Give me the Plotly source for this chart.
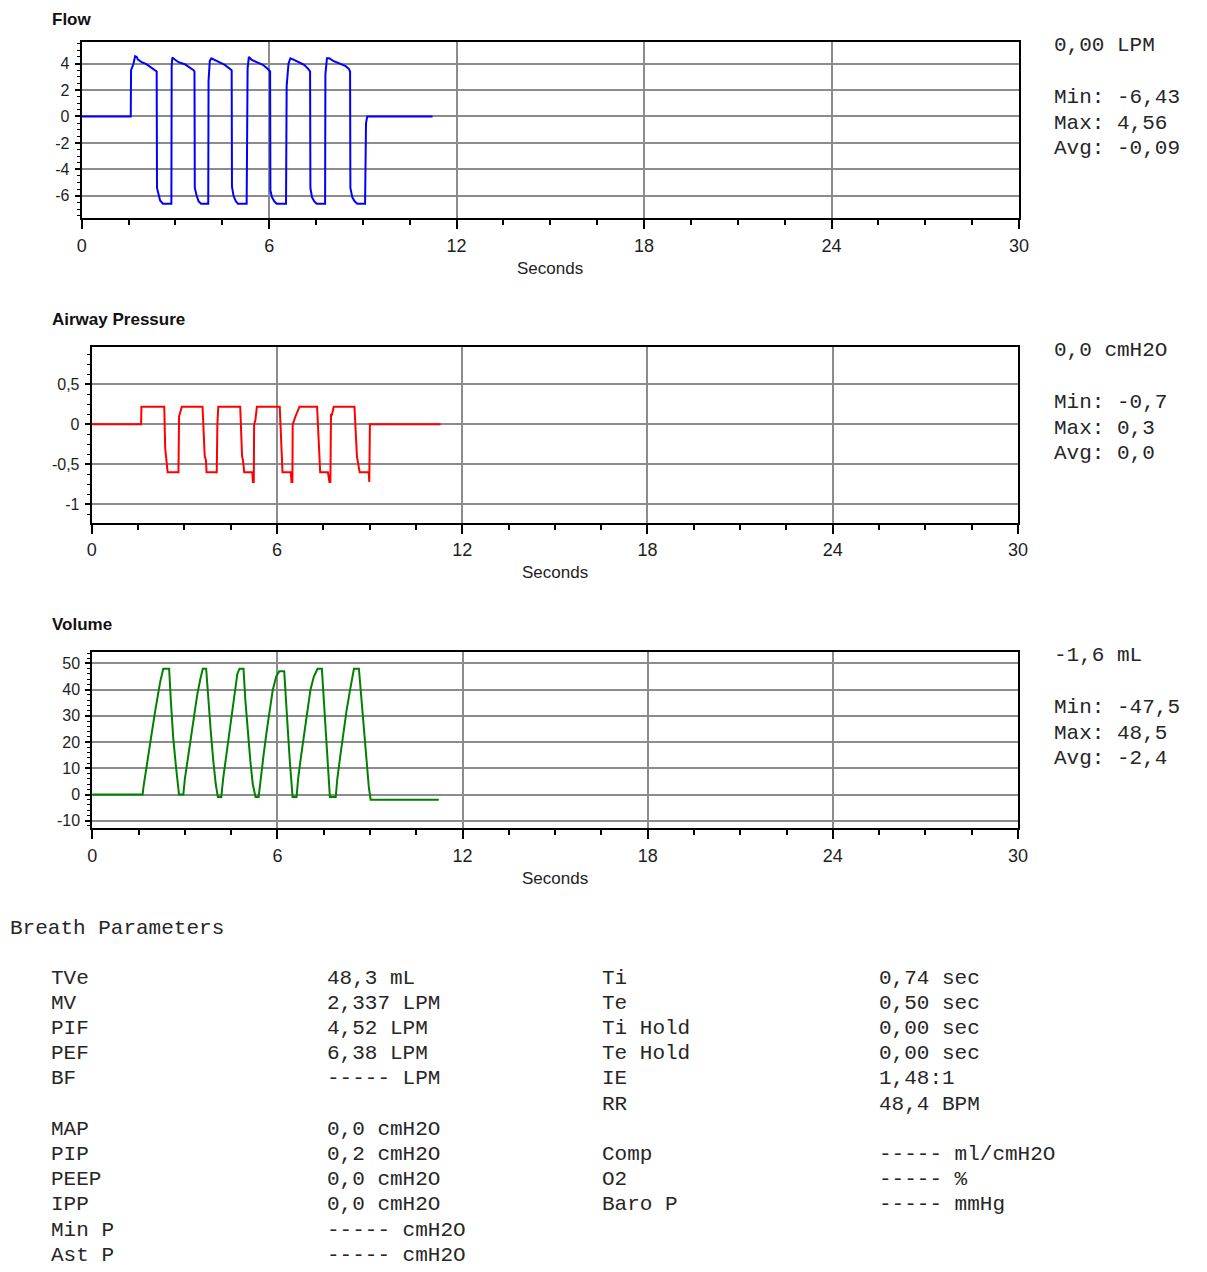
import plotly.graph_objects as go

W, H = 1207, 1272
OFFX, OFFY = 8, 8                  # page body margin where the figure lands
FW, FH = W - 2 * OFFX, H - OFFY    # figure size so the page does not overflow horizontally

# ---------------- data ----------------
flow_t = [0, 1.57, 1.58, 1.66, 1.71, 1.76, 1.80, 1.92, 2.07, 2.22, 2.34, 2.40, 2.41, 2.46, 2.51, 2.60, 2.87,
          2.88, 2.90, 2.98, 3.10, 3.30, 3.48, 3.58, 3.61, 3.62, 3.68, 3.74, 3.82, 4.05,
          4.06, 4.10, 4.15, 4.25, 4.40, 4.58, 4.72, 4.80, 4.81, 4.86, 4.93, 5.00, 5.28,
          5.29, 5.31, 5.35, 5.43, 5.60, 5.80, 5.95, 6.03, 6.04, 6.09, 6.16, 6.24, 6.54,
          6.56, 6.62, 6.68, 6.78, 6.95, 7.12, 7.25, 7.31, 7.32, 7.37, 7.44, 7.52, 7.79,
          7.80, 7.85, 7.92, 8.05, 8.25, 8.45, 8.55, 8.59, 8.60, 8.66, 8.73, 8.82, 9.07,
          9.08, 9.10, 9.14, 11.23]
flow_v = [0, 0, 3.5, 4.0, 4.56, 4.5, 4.3, 4.1, 3.95, 3.7, 3.5, 3.4, -5.4, -6.0, -6.35, -6.6, -6.6,
          3.8, 4.45, 4.3, 4.1, 3.95, 3.7, 3.5, 3.4, -5.4, -6.0, -6.4, -6.6, -6.6,
          2.7, 4.2, 4.4, 4.3, 4.1, 3.9, 3.6, 3.5, -5.3, -6.0, -6.4, -6.6, -6.6,
          0.5, 3.6, 4.5, 4.3, 4.1, 3.9, 3.6, 3.4, -5.6, -6.1, -6.4, -6.6, -6.6,
          2.3, 4.0, 4.4, 4.3, 4.1, 3.9, 3.6, 3.4, -5.4, -6.1, -6.4, -6.6, -6.6,
          3.2, 4.4, 4.4, 4.2, 4.0, 3.8, 3.6, 3.4, -5.4, -6.1, -6.4, -6.6, -6.6,
          -1.5, -0.5, 0, 0]

pres_t = [0, 1.60, 1.61, 2.35, 2.38, 2.42, 2.46, 2.81, 2.83, 2.92,
          3.59, 3.66, 3.70, 3.72, 4.05, 4.07, 4.10,
          4.81, 4.87, 4.90, 4.94, 5.20, 5.22, 5.25, 5.26, 5.30, 5.35,
          6.09, 6.15, 6.18, 6.45, 6.47, 6.50, 6.51, 6.60, 6.73,
          7.30, 7.37, 7.40, 7.65, 7.70, 7.73, 7.75, 7.78, 7.84,
          8.51, 8.59, 8.68, 8.97, 8.99, 9.01, 11.30]
pres_v = [0, 0, 0.22, 0.22, -0.3, -0.5, -0.6, -0.6, 0.1, 0.22,
          0.22, -0.4, -0.45, -0.6, -0.6, 0.0, 0.22,
          0.22, -0.4, -0.45, -0.6, -0.6, -0.72, -0.72, 0.0, 0.05, 0.22,
          0.22, -0.45, -0.6, -0.6, -0.72, -0.72, 0.0, 0.1, 0.22,
          0.22, -0.5, -0.6, -0.6, -0.72, -0.72, 0.12, 0.12, 0.22,
          0.22, -0.4, -0.6, -0.6, -0.72, 0.0, 0.0]

vol_t = [0, 1.63, 1.66, 1.72, 1.80, 1.88, 1.96, 2.04, 2.12, 2.20, 2.30, 2.49, 2.55, 2.62, 2.70, 2.78, 2.81, 2.95,
         3.00, 3.10, 3.20, 3.30, 3.40, 3.50, 3.58, 3.69, 3.76, 3.84, 3.92, 4.00, 4.07, 4.18,
         4.24, 4.34, 4.44, 4.54, 4.62, 4.70, 4.77, 4.90, 4.96, 5.04, 5.12, 5.20, 5.29, 5.39,
         5.45, 5.55, 5.65, 5.75, 5.85, 5.96, 6.06, 6.22, 6.27, 6.34, 6.40, 6.46, 6.49, 6.62,
         6.67, 6.77, 6.87, 6.97, 7.07, 7.18, 7.30, 7.44, 7.50, 7.56, 7.62, 7.67, 7.70, 7.89,
         7.94, 8.04, 8.14, 8.24, 8.34, 8.42, 8.48, 8.64, 8.72, 8.80, 8.88, 8.96, 9.02, 11.23]
vol_v = [0, 0, 3, 8, 14, 20, 26, 32, 38, 43, 48, 48, 35, 22, 12, 3, 0, 0,
         6, 14, 22, 30, 38, 44, 48, 48, 36, 24, 13, 4, -1, -1,
         6, 15, 24, 32, 40, 46, 48, 48, 36, 24, 13, 4, -1, -1,
         6, 15, 24, 32, 40, 45, 47, 47, 36, 24, 13, 4, -1, -1,
         6, 15, 24, 32, 40, 45, 48, 48, 36, 24, 12, 3, -1, -1,
         6, 15, 24, 32, 39, 45, 48, 48, 36, 24, 12, 3, -2, -2]

x_ticks = [0, 6, 12, 18, 24, 30]
flow_yticks = [-6, -4, -2, 0, 2, 4]
flow_ytext = ["-6", "-4", "-2", "0", "2", "4"]
pres_yticks = [-1, -0.5, 0, 0.5]
pres_ytext = ["-1", "-0,5", "0", "0,5"]
vol_yticks = [-10, 0, 10, 20, 30, 40, 50]
vol_ytext = ["-10", "0", "10", "20", "30", "40", "50"]

panel_titles = ["Flow", "Airway Pressure", "Volume"]
readouts = ["0,00 LPM", "0,0 cmH2O", "-1,6 mL"]
stats = [["Min: -6,43", "Max: 4,56", "Avg: -0,09"],
         ["Min: -0,7", "Max: 0,3", "Avg: 0,0"],
         ["Min: -47,5", "Max: 48,5", "Avg: -2,4"]]

left_labels = ["TVe", "MV", "PIF", "PEF", "BF", "", "MAP", "PIP", "PEEP", "IPP", "Min P", "Ast P"]
left_values = ["48,3 mL", "2,337 LPM", "4,52 LPM", "6,38 LPM", "----- LPM", "",
               "0,0 cmH2O", "0,2 cmH2O", "0,0 cmH2O", "0,0 cmH2O", "----- cmH2O", "----- cmH2O"]
right_labels = ["Ti", "Te", "Ti Hold", "Te Hold", "IE", "RR", "", "Comp", "O2", "Baro P"]
right_values = ["0,74 sec", "0,50 sec", "0,00 sec", "0,00 sec", "1,48:1", "48,4 BPM", "",
                "----- ml/cmH2O", "----- %", "----- mmHg"]

# ---------------- figure ----------------
def px_x(x):
    return (x - OFFX) / FW

def px_y(y):
    return 1 - (y - OFFY) / FH

AX = 3  # annotation inner padding compensation for left-anchored texts

# panel pixel boxes (page coords): (left, right, top, bottom)
boxes = [(81.7, 1019, 41.7, 218.3), (91.7, 1018, 346.7, 522.7), (92.3, 1018, 651.7, 828.3)]
yranges = [[-7.7, 5.65], [-1.23, 0.97], [-12.9, 54.5]]
yminor = [0.5, 0.125, 2]
colors = ["#0000FF", "#FF0000", "#008000"]
series = [(flow_t, flow_v), (pres_t, pres_v), (vol_t, vol_v)]
yt = [(flow_yticks, flow_ytext), (pres_yticks, pres_ytext), (vol_yticks, vol_ytext)]

fig = go.Figure()
layout = dict(width=FW, height=FH, margin=dict(l=0, r=0, t=0, b=0, autoexpand=False),
              paper_bgcolor="white", plot_bgcolor="white", showlegend=False)

xtickfont = dict(family="Liberation Sans Narrow, Liberation Sans, Arial", size=18, color="#1e1e1e")
ytickfont = dict(family="Liberation Sans Narrow, Liberation Sans, Arial", size=16, color="#1e1e1e")
MONO_SIZE = 21
mono = dict(family="Liberation Mono, Courier New, monospace", size=MONO_SIZE, color="#262626")
annotations = []


def mono_text(x_page, y_page, text):
    # keep the text box inside the figure: pin to the bottom edge if it would be clipped
    half = MONO_SIZE * 0.72
    if y_page + half > OFFY + FH:
        return dict(x=px_x(x_page - AX), y=0.0, xref="paper", yref="paper", text=text,
                    showarrow=False, xanchor="left", yanchor="bottom", font=mono)
    return dict(x=px_x(x_page - AX), y=px_y(y_page), xref="paper", yref="paper", text=text,
                showarrow=False, xanchor="left", yanchor="middle", font=mono)


for i in range(3):
    l, r, t, b = boxes[i]
    sfx = "" if i == 0 else str(i + 1)
    fig.add_trace(go.Scatter(x=series[i][0], y=series[i][1], mode="lines",
                             line=dict(color=colors[i], width=2),
                             xaxis="x" + sfx, yaxis="y" + sfx, hoverinfo="skip"))
    layout["xaxis" + sfx] = dict(
        domain=[px_x(l), px_x(r)], anchor="y" + sfx, range=[0, 30],
        tickmode="array", tickvals=x_ticks, ticks="outside", ticklen=9, tickwidth=1.5,
        tickcolor="black", tickfont=xtickfont, ticklabelstandoff=1,
        showgrid=True, gridcolor="#8c8c8c", gridwidth=2,
        showline=True, linecolor="black", linewidth=2, mirror=True, zeroline=False,
        minor=dict(tickmode="linear", tick0=0, dtick=1.5, ticks="outside", ticklen=5,
                   tickcolor="black", tickwidth=1.5, showgrid=False),
        fixedrange=True)
    layout["yaxis" + sfx] = dict(
        domain=[px_y(b), px_y(t)], anchor="x" + sfx, range=yranges[i],
        tickmode="array", tickvals=yt[i][0], ticktext=yt[i][1], ticks="outside", ticklen=5,
        tickwidth=1.5, tickcolor="black", tickfont=ytickfont, ticklabelstandoff=2,
        showgrid=True, gridcolor="#8c8c8c", gridwidth=2,
        showline=True, linecolor="black", linewidth=2, mirror=True, zeroline=False,
        minor=dict(tickmode="linear", tick0=0, dtick=yminor[i], ticks="outside", ticklen=3,
                   tickcolor="black", tickwidth=1, showgrid=False),
        fixedrange=True)

    # panel title (first one is pinned to the top edge so it is not clipped)
    ty = t - 27
    tfont = dict(family="Liberation Sans, Arial", size=17, color="#111")
    if ty - 10 < OFFY:
        annotations.append(dict(x=px_x(53 - AX), y=1.0, xref="paper", yref="paper",
                                text="<b>" + panel_titles[i] + "</b>", showarrow=False,
                                xanchor="left", yanchor="top", font=tfont))
    else:
        annotations.append(dict(x=px_x(53 - AX), y=px_y(ty), xref="paper", yref="paper",
                                text="<b>" + panel_titles[i] + "</b>", showarrow=False,
                                xanchor="left", yanchor="middle", font=tfont))
    # x axis title
    annotations.append(dict(x=px_x((l + r) / 2), y=px_y(b + 50), xref="paper", yref="paper",
                            text="Seconds", showarrow=False, xanchor="center", yanchor="middle",
                            font=dict(family="Liberation Sans Narrow, Liberation Sans, Arial",
                                      size=17, color="#1e1e1e")))
    # readouts
    annotations.append(mono_text(1055, t + 4, readouts[i]))
    for k, s in enumerate(stats[i]):
        annotations.append(mono_text(1055, t + 56 + 25.5 * k, s))

annotations.append(mono_text(8 + AX, 928, "Breath Parameters"))

row0, dy = 978, 25.2
for k in range(len(left_labels)):
    if left_labels[k]:
        annotations.append(mono_text(52, row0 + dy * k, left_labels[k]))
        annotations.append(mono_text(328, row0 + dy * k, left_values[k]))
for k in range(len(right_labels)):
    if right_labels[k]:
        annotations.append(mono_text(603, row0 + dy * k, right_labels[k]))
        annotations.append(mono_text(880, row0 + dy * k, right_values[k]))

layout["annotations"] = annotations
fig.update_layout(**layout)
fig.write_html("out.html")
